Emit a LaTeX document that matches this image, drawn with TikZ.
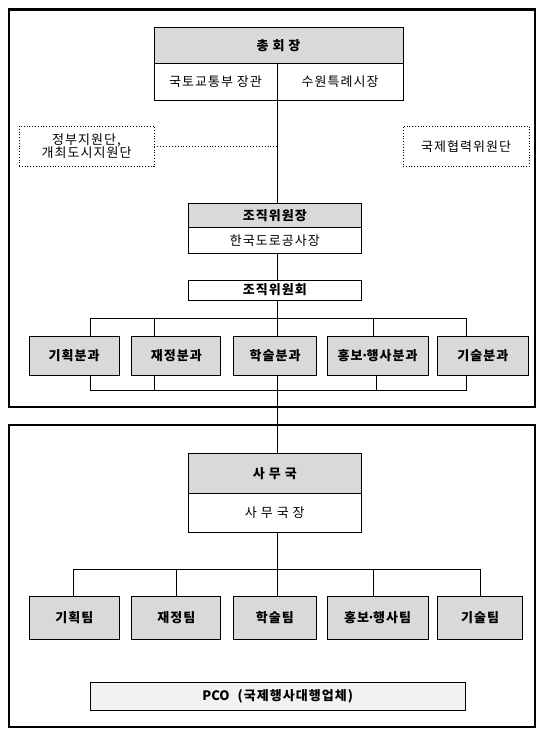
\documentclass[tikz,border=0pt]{standalone}
\usepackage{fontspec}
\setmainfont{Noto Sans CJK KR}[LetterSpace=8]
\usepackage{tikz}
\usetikzlibrary{positioning,calc}
\definecolor{cHead}{RGB}{217,217,217}
\definecolor{cPco}{RGB}{242,242,242}
\newcommand{\mdot}{\hspace{-0.15em}·\hspace{-0.15em}}

\begin{document}
\begin{tikzpicture}[x=1pt,y=-1pt,font=\fontsize{13}{15}\selectfont]
\tikzset{
  box/.style={draw,line width=0.9pt,inner sep=0pt,align=center},
  gbox/.style={box,fill=cHead,font=\fontsize{13}{15}\selectfont\bfseries},
  wbox/.style={box,fill=white},
  dbox/.style={draw,dotted,line width=0.8pt,inner sep=0pt,align=center,font=\fontsize{13}{13.5}\selectfont},
  frame/.style={draw,line width=2.2pt},
  ln/.style={line width=0.9pt}
}
\useasboundingbox (0,0) rectangle (540,732);
% frames
\draw[frame] (8.7,9.5) rectangle (535,407.3);
\draw[frame] (8.7,425) rectangle (535,727.3);
\coordinate (sp) at (277,0);

% top: chairman
\node[gbox,minimum width=249pt,minimum height=36pt] (chair) at (278.5,45.3) {총 회 장};
\node[wbox,minimum width=123pt,minimum height=36.7pt] (minister) at (215.5,81.7) {국토교통부 장관};
\node[wbox,minimum width=126pt,minimum height=36.7pt] (mayor) at (340,81.7) {수원특례시장};

% support groups
\node[dbox,minimum width=135pt,minimum height=40.7pt] (govsup) at (86.5,146.3) {정부지원단,\\개최도시지원단};
\node[dbox,minimum width=126pt,minimum height=40.7pt] (intl) at (466,146.3) {국제협력위원단};

% organizing committee
\node[gbox,minimum width=172.4pt,minimum height=24pt] (orgchair) at (274.8,215.3) {조직위원장};
\node[wbox,minimum width=172.4pt,minimum height=26pt] (orgsub) at (274.8,240.3) {한국도로공사장};
\node[wbox,font=\fontsize{13}{15}\selectfont\bfseries,minimum width=172.4pt,minimum height=20pt] (committee) at (274.8,290) {조직위원회};

% divisions
\node[gbox,minimum width=90pt,minimum height=39pt] (div1) at (74.2,355.5) {기획분과};
\node[gbox,minimum width=89pt,minimum height=39pt] (div2) at (176.3,355.5) {재정분과};
\node[gbox,minimum width=83pt,minimum height=39pt] (div3) at (275.1,355.5) {학술분과};
\node[gbox,minimum width=101pt,minimum height=39pt] (div4) at (377.7,355.5) {홍보\mdot 행사분과};
\node[gbox,minimum width=90.3pt,minimum height=39pt] (div5) at (482.9,355.5) {기술분과};

% secretariat
\node[gbox,minimum width=172.4pt,minimum height=40pt] (office) at (274.8,473.3) {사 무 국};
\node[wbox,minimum width=172.4pt,minimum height=39pt] (officer) at (274.8,512.8) {사 무 국 장};

% teams
\node[gbox,minimum width=90pt,minimum height=42.6pt] (team1) at (74.4,618) {기획팀};
\node[gbox,minimum width=89pt,minimum height=42.6pt] (team2) at (176.3,618) {재정팀};
\node[gbox,minimum width=82.4pt,minimum height=42.6pt] (team3) at (274.8,618) {학술팀};
\node[gbox,minimum width=101.4pt,minimum height=42.6pt] (team4) at (377.7,618) {홍보\mdot 행사팀};
\node[gbox,minimum width=84.8pt,minimum height=42.6pt] (team5) at (480.1,618) {기술팀};

\node[box,fill=cPco,font=\fontsize{13}{15}\selectfont\bfseries,minimum width=375.4pt,minimum height=27.3pt] (pco) at (277.7,696.3) {{\addfontfeature{LetterSpace=0}PCO}~~(국제행사대행업체)};

% spine
\draw[ln] (sp |- minister.south) -- (sp |- orgchair.north);
\draw[ln,dotted] (govsup.east) -- (sp |- govsup.east);
\draw[ln] (sp |- orgsub.south) -- (sp |- committee.north);

% division bus
\coordinate (busA) at (277,318.3);
\coordinate (busB) at (277,390.7);
\draw[ln] (sp |- committee.south) -- (sp |- div3.north);
\draw[ln] ([xshift=15.8pt]div1.north) |- (busA) -| ([xshift=-16.9pt]div5.north);
\draw[ln] ([xshift=-22.3pt]div2.north) -- ([xshift=-22.3pt]div2.north |- busA);
\draw[ln] ([xshift=-4.7pt]div4.north) -- ([xshift=-4.7pt]div4.north |- busA);
\draw[ln] ([xshift=15.8pt]div1.south) |- (busB) -| ([xshift=-16.9pt]div5.south);
\draw[ln] ([xshift=-22.3pt]div2.south) -- ([xshift=-22.3pt]div2.south |- busB);
\draw[ln] ([xshift=-1.7pt]div4.south) -- ([xshift=-1.7pt]div4.south |- busB);
\draw[ln] (sp |- div3.south) -- (sp |- office.north);

% team bus
\coordinate (busC) at (277,569.3);
\draw[ln] (sp |- officer.south) -- (sp |- team3.north);
\draw[ln] ([xshift=-0.7pt]team1.north) |- (busC) -| ([xshift=0.5pt]team5.north);
\draw[ln] (team2.north) -- (team2.north |- busC);
\draw[ln] ([xshift=-4.7pt]team4.north) -- ([xshift=-4.7pt]team4.north |- busC);
\end{tikzpicture}
\end{document}
